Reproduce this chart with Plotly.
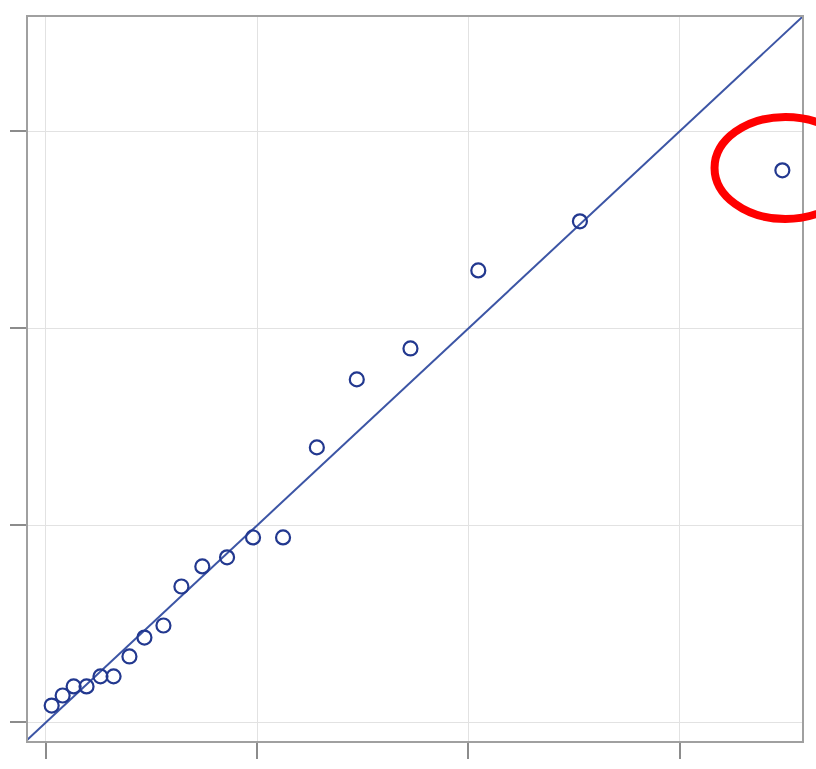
import plotly.graph_objects as go

# Sample quantiles vs theoretical quantiles
theoretical = [0.028, 0.080, 0.132, 0.193, 0.259, 0.321, 0.396, 0.467, 0.557, 0.642,
               0.741, 0.858, 0.981, 1.123, 1.283, 1.472, 1.726, 2.047, 2.528, 3.486]
observed = [0.086, 0.137, 0.183, 0.183, 0.234, 0.234, 0.335, 0.431, 0.492, 0.690,
            0.792, 0.838, 0.939, 0.939, 1.396, 1.741, 1.898, 2.294, 2.543, 2.802]
tick_vals = [0, 1, 2, 3]
x_range = [-0.084, 3.579]
y_range = [-0.094, 3.58]

# Outlier highlight (paper coordinates)
outlier_box = dict(x0=0.887, x1=1.07, y0=0.721, y1=0.862)

fig = go.Figure()

# Reference line y = x across the whole plotting range
line_ends = [min(x_range[0], y_range[0]), max(x_range[1], y_range[1])]
fig.add_trace(go.Scatter(
    x=line_ends, y=line_ends, mode="lines",
    line=dict(color="#3c55a5", width=2), hoverinfo="skip", showlegend=False,
))

fig.add_trace(go.Scatter(
    x=theoretical, y=observed, mode="markers",
    marker=dict(symbol="circle-open", size=14, color="#22388f",
                line=dict(width=2.2, color="#22388f")),
    showlegend=False,
))

fig.add_shape(type="circle", xref="paper", yref="paper",
              line=dict(color="#ff0000", width=8), **outlier_box)

axis_style = dict(
    tickvals=tick_vals, showticklabels=False,
    ticks="outside", ticklen=16, tickwidth=2, tickcolor="#8c8c8c",
    showgrid=True, gridcolor="#e2e2e2", gridwidth=1,
    showline=True, linecolor="#a0a0a0", linewidth=2, mirror=True,
    zeroline=False,
)

fig.update_layout(
    width=816, height=769,
    margin=dict(l=24, r=13, t=17, b=26),
    plot_bgcolor="white", paper_bgcolor="white",
    xaxis=dict(range=x_range, **axis_style),
    yaxis=dict(range=y_range, **axis_style),
)

fig.write_html("out.html")
